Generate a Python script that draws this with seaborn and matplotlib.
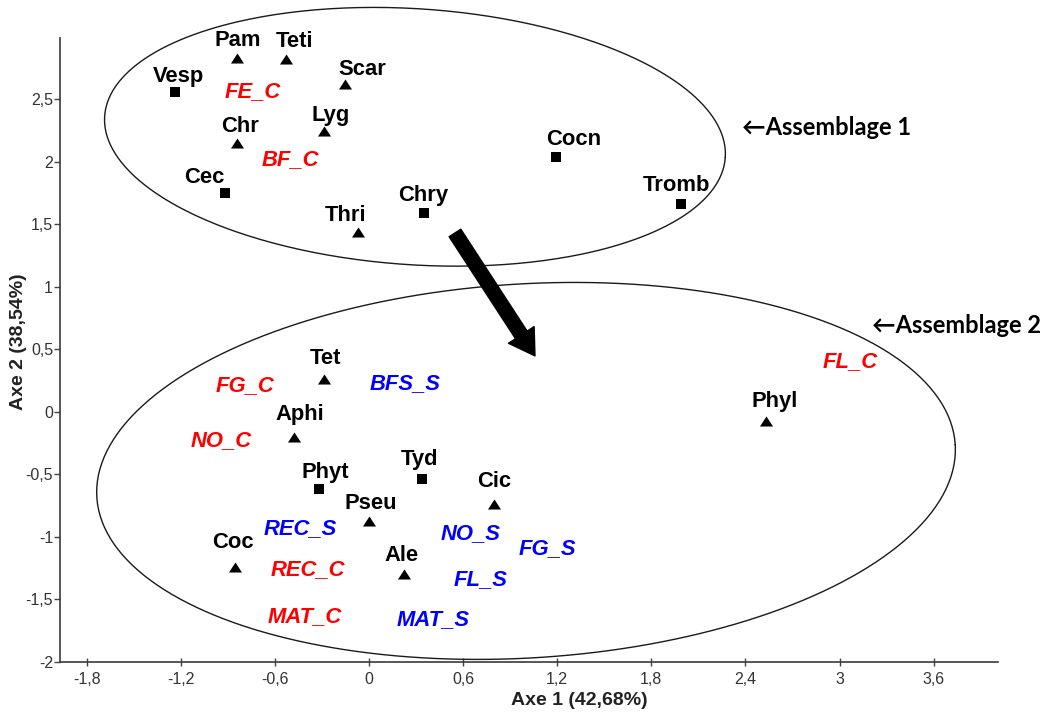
import numpy as np
import pandas as pd
import matplotlib
matplotlib.use("Agg")
import matplotlib.pyplot as plt
import seaborn as sns
from matplotlib.patches import FancyArrowPatch

# ---------------- data ----------------
taxa = ["Pam", "Teti", "Vesp", "Scar", "Lyg", "Chr", "Cec", "Thri", "Chry", "Cocn", "Tromb",
        "Tet", "Aphi", "Phyt", "Tyd", "Cic", "Pseu", "Coc", "Ale", "Phyl"]
taxa_x = [-0.84, -0.53, -1.235, -0.15, -0.285, -0.84, -0.92, -0.07, 0.35, 1.19, 1.99,
          -0.29, -0.48, -0.32, 0.34, 0.80, 0.00, -0.855, 0.22, 2.53]
taxa_y = [2.83, 2.82, 2.56, 2.62, 2.25, 2.15, 1.75, 1.44, 1.59, 2.04, 1.66,
          0.26, -0.20, -0.62, -0.54, -0.74, -0.87, -1.24, -1.30, -0.07]
taxa_shape = ["tri", "tri", "sq", "tri", "tri", "tri", "sq", "tri", "sq", "sq", "sq",
              "tri", "tri", "sq", "sq", "tri", "tri", "tri", "tri", "tri"]

sup_labels = ["FE_C", "BF_C", "FG_C", "NO_C", "REC_C", "MAT_C", "FL_C",
              "BFS_S", "REC_S", "NO_S", "FG_S", "FL_S", "MAT_S"]
sup_x = [-0.74, -0.50, -0.79, -0.94, -0.39, -0.41, 3.07, 0.23, -0.44, 0.65, 1.14, 0.71, 0.41]
sup_y = [2.58, 2.04, 0.23, -0.21, -1.24, -1.62, 0.42, 0.25, -0.91, -0.95, -1.07, -1.32, -1.64]

x_ticks = [-1.8, -1.2, -0.6, 0, 0.6, 1.2, 1.8, 2.4, 3, 3.6]
x_ticklabels = ["-1,8", "-1,2", "-0,6", "0", "0,6", "1,2", "1,8", "2,4", "3", "3,6"]
y_ticks = [-2, -1.5, -1, -0.5, 0, 0.5, 1, 1.5, 2, 2.5]
y_ticklabels = ["-2", "-1,5", "-1", "-0,5", "0", "0,5", "1", "1,5", "2", "2,5"]

x_title = "Axe 1 (42,68%)"
y_title = "Axe 2 (38,54%)"
groups = ["Assemblage 1", "Assemblage 2"]

# label offsets (pixels) of taxon names relative to their markers
label_dx = [1, 9, 3, 17, 6, 3, -20, -13, -1, 18, -5, 2, 6, 6, -3, 0, 2, -2, -2, 9]
label_dy = [20, 20, 18, 17, 18, 19, 18, 19, 20, 20, 21, 23, 25, 19, 22, 25, 20, 27, 21, 22]

# ---------------- figure ----------------
sns.set_theme(style="white")
plt.rcParams["font.family"] = ["Liberation Sans", "DejaVu Sans"]

W, H, DPI = 1047, 722, 100
fig = plt.figure(figsize=(W / DPI, H / DPI), dpi=DPI)
ax = fig.add_axes([60 / W, (H - 662) / H, 938 / W, 624 / H])
XLIM = (-1.97, 4.01)
YLIM = (-2.0, 2.99)
ax.set_xlim(*XLIM)
ax.set_ylim(*YLIM)

df = pd.DataFrame({"x": taxa_x, "y": taxa_y, "shape": taxa_shape, "label": taxa})
tri_marker = [(-1, -0.77), (1, -0.77), (0, 0.77)]
sns.scatterplot(data=df[df["shape"] == "tri"], x="x", y="y", marker=tri_marker,
                s=9.4 ** 2, color="black", linewidth=0, ax=ax, legend=False, zorder=3)
sns.scatterplot(data=df[df["shape"] == "sq"], x="x", y="y", marker="s",
                s=6.8 ** 2, color="black", linewidth=0, ax=ax, legend=False, zorder=3)

for name, x, y, dx, dy in zip(taxa, taxa_x, taxa_y, label_dx, label_dy):
    ax.annotate(name, (x, y), xytext=(dx, dy - 8), textcoords="offset pixels",
                ha="center", va="baseline", fontsize=15.8, fontweight="bold",
                color="black", zorder=4)

for name, x, y in zip(sup_labels, sup_x, sup_y):
    col = "#ff0000" if name.endswith("_C") else "#0000ff"
    ax.annotate(name, (x, y), xytext=(0, -8), textcoords="offset pixels",
                ha="center", va="baseline", fontsize=15.8, fontweight="bold",
                fontstyle="italic", color=col, zorder=4)

# pixel scale of data units
sx = 938 / (XLIM[1] - XLIM[0])
sy = 624 / (YLIM[1] - YLIM[0])


def draw_ellipse(cx, cy, a_px, b_px, ang_deg):
    t = np.linspace(0, 2 * np.pi, 400)
    th = np.deg2rad(ang_deg)
    dx = a_px * np.cos(t) * np.cos(th) - b_px * np.sin(t) * np.sin(th)
    dy = a_px * np.cos(t) * np.sin(th) + b_px * np.sin(t) * np.cos(th)
    ax.plot(cx + dx / sx, cy + dy / sy, color="#1a1a1a", lw=1.0, clip_on=False, zorder=2)


draw_ellipse(0.293, 2.20, 311, 128, -3.8)
draw_ellipse(1.001, -0.472, 430, 187, 3.5)

# big arrow between the assemblages
arr = FancyArrowPatch((0.548, 1.431), (1.058, 0.448),
                      arrowstyle="simple,head_length=18,head_width=22,tail_width=10",
                      mutation_scale=1, color="black", shrinkA=0, shrinkB=0, zorder=3)
ax.add_patch(arr)

# assemblage annotations
ax.text(2.379, 2.272, "\u2190" + groups[0], ha="left", va="center", fontsize=17,
        fontweight="bold", family=["Lato", "DejaVu Sans"], color="black")
ax.text(3.208, 0.688, "\u2190" + groups[1], ha="left", va="center", fontsize=17,
        fontweight="bold", family=["Lato", "DejaVu Sans"], color="black", clip_on=False)

# axes styling
for s in ["top", "right"]:
    ax.spines[s].set_visible(False)
for s in ["left", "bottom"]:
    ax.spines[s].set_color("#3a3a3a")
    ax.spines[s].set_linewidth(1.2)

ax.set_xticks(x_ticks)
ax.set_xticklabels(x_ticklabels)
ax.set_yticks(y_ticks)
ax.set_yticklabels(y_ticklabels)
ax.tick_params(axis="x", direction="inout", length=6, width=1, color="#444444",
               labelsize=11.5, labelcolor="#333333", pad=4, bottom=True)
ax.tick_params(axis="y", direction="out", length=4, width=1, color="#444444",
               labelsize=11.5, labelcolor="#333333", pad=1, left=True)

ax.set_xlabel(x_title, fontsize=14, fontweight="bold", color="#222222")
ax.set_ylabel(y_title, fontsize=14, fontweight="bold", color="#222222")
ax.xaxis.set_label_coords((579 - 60) / 938, (662 - 692) / 624)
ax.yaxis.set_label_coords((27 - 60) / 938, (662 - 342) / 624)
ax.grid(False)

fig.savefig("out.png", dpi=DPI)
